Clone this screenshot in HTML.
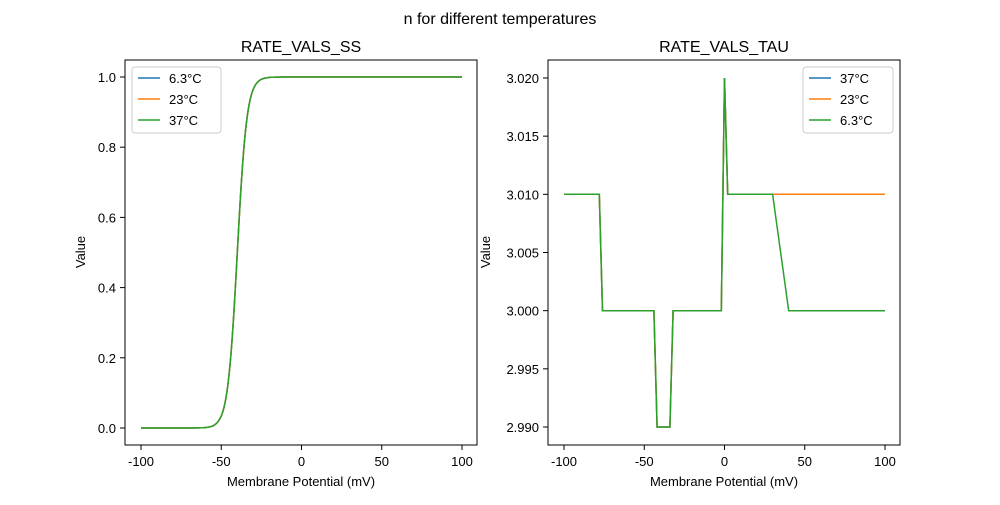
<!DOCTYPE html>
<html><head><meta charset="utf-8"><style>
body{margin:0;background:#fff}
svg{font-family:"Liberation Sans","DejaVu Sans",sans-serif}
</style></head><body>
<svg id="s" width="1000" height="500" xmlns="http://www.w3.org/2000/svg">
<rect width="1000" height="500" fill="#fff"/>
<text x="500" y="24" font-size="16" text-anchor="middle">n for different temperatures</text>
<text x="301" y="52" font-size="16" text-anchor="middle">RATE_VALS_SS</text>
<text x="724" y="52" font-size="16" text-anchor="middle">RATE_VALS_TAU</text>
<g id="g"></g>
<rect x="125" y="60" width="352" height="385" fill="none" stroke="#000" stroke-width="1"/>
<rect x="548" y="60" width="352" height="385" fill="none" stroke="#000" stroke-width="1"/>
<text x="301" y="486" font-size="13" text-anchor="middle">Membrane Potential (mV)</text>
<text x="724" y="486" font-size="13" text-anchor="middle">Membrane Potential (mV)</text>
<text transform="translate(85,252) rotate(-90)" font-size="13" text-anchor="middle">Value</text>
<text transform="translate(490,252) rotate(-90)" font-size="13" text-anchor="middle">Value</text>
<rect x="132" y="67" width="89" height="66" fill="#fff" stroke="#ccc" rx="3"/>
<line x1="138" y1="78" x2="160" y2="78" stroke="#1f77b4" stroke-width="1.5"/><text x="169" y="83" font-size="13">6.3°C</text>
<line x1="138" y1="99" x2="160" y2="99" stroke="#ff7f0e" stroke-width="1.5"/><text x="169" y="104" font-size="13">23°C</text>
<line x1="138" y1="120" x2="160" y2="120" stroke="#2ca02c" stroke-width="1.5"/><text x="169" y="125" font-size="13">37°C</text>
<rect x="803" y="67" width="90" height="66" fill="#fff" stroke="#ccc" rx="3"/>
<line x1="809" y1="78" x2="831" y2="78" stroke="#1f77b4" stroke-width="1.5"/><text x="840" y="83" font-size="13">37°C</text>
<line x1="809" y1="99" x2="831" y2="99" stroke="#ff7f0e" stroke-width="1.5"/><text x="840" y="104" font-size="13">23°C</text>
<line x1="809" y1="120" x2="831" y2="120" stroke="#2ca02c" stroke-width="1.5"/><text x="840" y="125" font-size="13">6.3°C</text>
</svg>
<script>
const g=document.getElementById('g');let h='';
function L(x1,y1,x2,y2,c,w){h+=`<line x1="${x1}" y1="${y1}" x2="${x2}" y2="${y2}" stroke="${c||'#000'}" stroke-width="${w||1}"/>`}
function T(x,y,t,a){h+=`<text x="${x}" y="${y}" font-size="13" text-anchor="${a}">${t}</text>`}
for(const v of [-100,-50,0,50,100]){
 let x=301.5+v*1.605;L(x,445,x,450);T(x,466,v,'middle');
 x=724.5+v*1.605;L(x,445,x,450);T(x,466,v,'middle');}
for(let i=0;i<=5;i++){const v=i*0.2,y=428-v*351;L(120,y,125,y);T(116,y+5,v.toFixed(1),'end');}
for(let i=0;i<=6;i++){const v=2.99+i*0.005,y=427-i*58.17;L(543,y,548,y);T(539,y+5,v.toFixed(3),'end');}
let p=[];for(let v=-100;v<=100;v+=0.5){const s=1/(1+Math.exp(-(v+40)/3));p.push((301.5+v*1.605).toFixed(1)+','+(428-s*351).toFixed(1));}
const P=p.join(' ');
for(const c of ['#1f77b4','#ff7f0e','#2ca02c'])h+=`<polyline points="${P}" fill="none" stroke="${c}" stroke-width="1.5"/>`;
function X(v){return 724.5+v*1.605}function Y(v){return 427-(v-2.99)/0.005*58.17}
const base=[[-100,3.01],[-78,3.01],[-76,3.0],[-44,3.0],[-42,2.99],[-34,2.99],[-32,3.0],[-2,3.0],[0,3.02],[2,3.01],[30,3.01]];
const a=base.concat([[100,3.01]]),b=base.concat([[40,3.0],[100,3.0]]);
const pp=q=>q.map(d=>X(d[0]).toFixed(1)+','+Y(d[1]).toFixed(1)).join(' ');
h+=`<polyline points="${pp(a)}" fill="none" stroke="#1f77b4" stroke-width="1.5"/>`;
h+=`<polyline points="${pp(a)}" fill="none" stroke="#ff7f0e" stroke-width="1.5"/>`;
h+=`<polyline points="${pp(b)}" fill="none" stroke="#2ca02c" stroke-width="1.5"/>`;
g.innerHTML=h;
</script>
</body></html>
